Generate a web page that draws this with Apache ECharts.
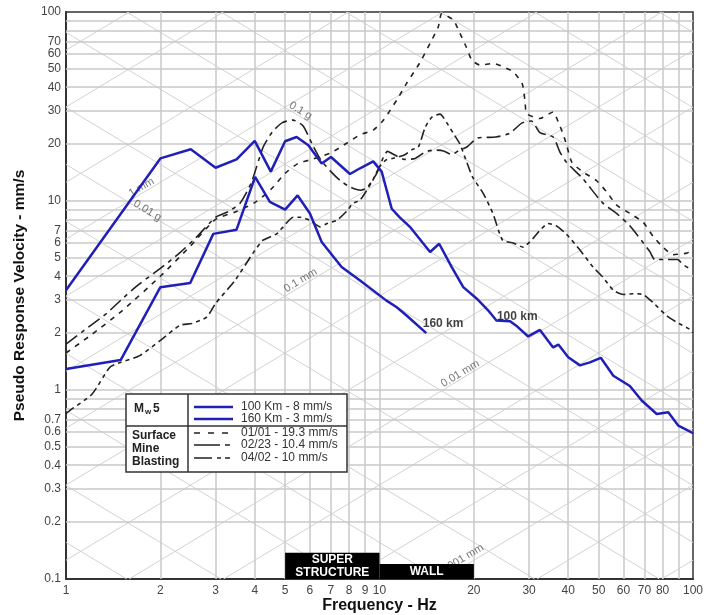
<!DOCTYPE html>
<html>
<head>
<meta charset="utf-8">
<title>Pseudo Response Velocity</title>
<script src="https://cdn.jsdelivr.net/npm/echarts@6/dist/echarts.min.js"></script>
<style>
  html, body { margin: 0; padding: 0; background: #fff; }
  #chart { width: 704px; height: 615px; }
</style>
</head>
<body>
<div id="chart"></div>
<script>
// [frequency Hz, pseudo velocity mm/s]
const km100 = [[1,3.37],[2,16.8],[2.5,18.8],[3,15.0],[3.5,16.6],[4,20.8],[4.5,14.3],[5,20.7],[5.44,21.8],[5.93,19.7],[6.54,15.8],[7,17.1],[8.05,13.9],[8.67,14.9],[9.55,16.2],[10.16,14.3],[10.94,9.1],[11.6,8.2],[12.5,7.3],[14.5,5.37],[15.5,5.94],[17,4.47],[18.5,3.5],[20.4,3.05],[22.2,2.64],[23.6,2.33],[26.1,2.31],[27.3,2.19],[29.8,1.92],[32.5,2.08],[35.8,1.68],[37.2,1.74],[40,1.49],[43.6,1.35],[46.9,1.40],[50.8,1.48],[55.7,1.19],[62.9,1.05],[68.6,0.88],[76.6,0.746],[83.4,0.762],[89.8,0.647],[100,0.592]];
const km160 = [[1,1.29],[1.494,1.44],[2,3.5],[2.49,3.68],[2.95,6.7],[3.5,7.05],[4.01,13.4],[4.47,9.9],[5,9.0],[5.48,10.7],[6,8.58],[6.54,6.07],[7.57,4.47],[8.67,3.8],[10.5,2.98],[11.35,2.74],[12.2,2.48],[14.1,2.0]];
const blast0101 = [[1,1.57],[1.2,1.95],[1.5,2.6],[2,4.0],[2.5,5.8],[3,8.0],[3.5,8.8],[4,9.8],[4.5,11.5],[5,14],[5.5,15.8],[6,16.5],[7,18],[7.85,20.2],[8.67,22.4],[9.55,23.7],[10.3,26.8],[11.35,34.2],[12.2,41.9],[13.4,53.4],[14.5,68.3],[15.4,83.6],[15.8,98],[17.2,90.7],[18.05,77.1],[18.9,65.5],[19.7,55.7],[20.9,52.4],[23.1,53.4],[25.4,50.3],[26.7,48.3],[28.5,41.9],[29.1,34.1],[29.5,29],[32.5,27.3],[35.8,29.6],[37.2,26.1],[38.6,22.4],[39.5,19.8],[41.1,16.0],[44.7,14.2],[49.3,12.8],[53.2,11.1],[57.1,9.5],[62.9,8.6],[69.4,7.7],[74.6,6.5],[80.2,5.7],[86.3,5.2],[95.6,5.3],[100,5.5]];
const blast0223 = [[1,1.75],[1.2,2.2],[1.35,2.55],[1.5,3.0],[1.7,3.6],[2,4.4],[2.3,5.3],[2.6,6.4],[3,8.2],[3.3,8.8],[3.6,9.8],[3.9,12.5],[4.25,19.2],[4.55,23.2],[4.9,26],[5.3,26.8],[5.7,25],[6.1,20],[6.5,16.5],[7,14.3],[7.5,12.8],[8.1,11.8],[8.7,11.4],[9.1,11.7],[9.8,14],[10.3,17.1],[10.6,18.3],[11.2,17.5],[12,16.6],[13,16.8],[14,18.2],[15,18.6],[16,18.4],[17,17.6],[18,18.6],[19,19.3],[20.5,21.5],[23.5,21.8],[26,22.8],[28.5,25.9],[30.5,26.5],[32.5,23],[35.8,21.8],[37.6,18.2],[39.5,16.0],[44.4,13.2],[51.4,9.8],[57,8.6],[62.9,7.4],[72.8,5.4],[75.6,4.9],[82,4.9],[89.3,4.9],[93,4.6],[100,4.3]];
const blast0402 = [[1,0.75],[1.03,0.78],[1.21,0.95],[1.38,1.32],[1.49,1.40],[1.72,1.52],[2,1.83],[2.31,2.2],[2.52,2.25],[2.81,2.43],[3,2.87],[3.46,3.8],[3.95,5.3],[4.25,6.2],[4.7,6.7],[4.93,7.3],[5.3,8.2],[5.58,8.2],[6,7.9],[6.46,7.3],[6.8,7.6],[7.3,7.9],[7.9,8.9],[8.2,9.7],[8.67,10.1],[9.5,12.8],[10,15.2],[10.5,16.5],[11,16.8],[12,17.5],[12.7,18.7],[13.3,19.3],[14,24.6],[14.7,27.8],[15.6,28.8],[16.4,25.9],[17.2,22.8],[18,20.2],[19,16],[19.8,13.4],[21.4,11],[23,8.6],[24.7,6.2],[26.7,6.0],[28.7,5.7],[30.8,6.3],[32.5,7.0],[34.5,7.6],[36.6,7.4],[39.4,6.7],[43.6,5.5],[48,4.47],[51.6,3.95],[55.7,3.37],[60,3.2],[64.5,3.23],[69.4,3.2],[74.6,2.9],[82.4,2.47],[90.5,2.24],[97.4,2.1],[100,2.0]];

const xTickLabels = [1,2,3,4,5,6,7,8,9,10,20,30,40,50,60,70,80,100];
const yTickLabels = [0.1,0.2,0.3,0.4,0.5,0.6,0.7,1,2,3,4,5,6,7,10,20,30,40,50,60,70,100];
const xGridValues = [2,3,4,5,6,7,8,9,10,20,30,40,50,60,70,80,90];
const yGridValues = [0.2,0.3,0.4,0.5,0.6,0.7,0.8,0.9,1,2,3,4,5,6,7,8,9,10,20,30,40,50,60,70,80,90];
// tripartite diagonals: displacement (mm) and acceleration (g)
const dispValues = [0.0002,0.0005,0.001,0.002,0.005,0.01,0.02,0.05,0.1,0.2,0.5,1,2,5,10];
const accValues = [0.0001,0.0002,0.0005,0.001,0.002,0.005,0.01,0.02,0.05,0.1,0.2,0.5,1,2,5];
const diagLabelText = ['0.1 g','0.01 g','1 mm','0.1 mm','0.01 mm','0.001 mm'];
const diagLabelAt = [[5.6,30],[1.82,8.9],[1.74,11.8],[5.6,3.8],[18.1,1.22],[18.3,0.127]];
const diagLabelKind = ['acc','acc','disp','disp','disp','disp'];

const F_MIN = 1, F_MAX = 100, V_MIN = 0.1, V_MAX = 100;
const G = 9810;
const ANG = Math.atan((567 / 3) / (627 / 2)) * 180 / Math.PI;

const clampF = (f) => Math.min(F_MAX * 0.9999, Math.max(F_MIN * 1.0001, f));
const clampV = (v) => Math.min(V_MAX * 0.9999, Math.max(V_MIN * 1.0001, v));

const diagLines = [];
dispValues.forEach((d) => {
  const k = 2 * Math.PI * d;
  const lo = Math.max(F_MIN, V_MIN / k), hi = Math.min(F_MAX, V_MAX / k);
  if (lo < hi) {
    diagLines.push([{ coord: [clampF(lo), clampV(k * lo)] }, { coord: [clampF(hi), clampV(k * hi)] }]);
  }
});
accValues.forEach((a) => {
  const k = G * a / (2 * Math.PI);
  const lo = Math.max(F_MIN, k / V_MAX), hi = Math.min(F_MAX, k / V_MIN);
  if (lo < hi) {
    diagLines.push([{ coord: [clampF(lo), clampV(k / lo)] }, { coord: [clampF(hi), clampV(k / hi)] }]);
  }
});

const gridLines = xGridValues.map((x) => ({ xAxis: x })).concat(yGridValues.map((y) => ({ yAxis: y })));

const FONT = "'Liberation Sans', Arial, sans-serif";
const BLUE = "#2020b8";
const BLACK = "#222";
const DASH_0101 = [5, 6];
const DASH_0223 = [14, 5, 4, 5];
const DASH_0402 = [10, 4, 4, 4, 4, 4];

const fmt = (v) => String(+(+v).toPrecision(3));

const lineSeries = (name, data, color, width, dash, smooth) => ({
  name: name,
  type: "line",
  data: data,
  showSymbol: false,
  symbol: "none",
  smooth: smooth,
  z: 3,
  lineStyle: { color: color, width: width, type: dash },
});

const option = {
  animation: false,
  backgroundColor: "#fff",
  textStyle: { fontFamily: FONT },
  grid: { left: 66, right: 11, top: 12, bottom: 36, outerBoundsMode: "none", containLabel: false, show: true, borderColor: "#333", borderWidth: 1.5 },
  xAxis: {
    type: "log",
    logBase: 10,
    min: F_MIN,
    max: F_MAX,
    name: "Frequency - Hz",
    nameLocation: "middle",
    nameGap: 19,
    nameMoveOverlap: false,
    nameTextStyle: { fontSize: 16, fontWeight: "bold", color: "#111", fontFamily: FONT },
    axisLine: { show: true, onZero: false, lineStyle: { color: "#333", width: 2 } },
    axisTick: { show: false },
    splitLine: { show: false },
    axisLabel: { customValues: xTickLabels, formatter: fmt, color: "#444", fontSize: 12, margin: 6, fontFamily: FONT },
  },
  yAxis: {
    type: "log",
    logBase: 10,
    min: V_MIN,
    max: V_MAX,
    name: "Pseudo Response Velocity - mm/s",
    nameLocation: "middle",
    nameGap: 38,
    nameMoveOverlap: false,
    nameTextStyle: { fontSize: 15.5, fontWeight: "bold", color: "#111", fontFamily: FONT },
    axisLine: { show: true, onZero: false, lineStyle: { color: "#333", width: 2 } },
    axisTick: { show: false },
    splitLine: { show: false },
    axisLabel: { customValues: yTickLabels, formatter: fmt, color: "#444", fontSize: 12, margin: 5, fontFamily: FONT },
  },
  series: [
    {
      type: "line",
      data: [],
      silent: true,
      z: 1,
      markLine: {
        silent: true,
        z: 1,
        symbol: ["none", "none"],
        label: { show: false },
        lineStyle: { color: "#d2d2d2", width: 1, type: "solid" },
        data: diagLines,
      },
    },
    {
      type: "line",
      data: [],
      silent: true,
      z: 1,
      markLine: {
        silent: true,
        z: 1,
        symbol: ["none", "none"],
        label: { show: false },
        lineStyle: { color: "#c9c9c9", width: 1.5, type: "solid" },
        data: gridLines,
      },
    },
    {
      type: "scatter",
      silent: true,
      symbolSize: 0,
      z: 2,
      data: diagLabelText.map((t, i) => ({
        name: t,
        value: diagLabelAt[i],
        label: { rotate: diagLabelKind[i] === "disp" ? ANG : -ANG },
      })),
      label: { show: true, position: "inside", formatter: "{b}", color: "#555", fontSize: 11, fontFamily: FONT },
    },
    lineSeries("01/01 - 19.3 mm/s", blast0101, BLACK, 1.6, DASH_0101, 0.2),
    lineSeries("02/23 - 10.4 mm/s", blast0223, BLACK, 1.6, DASH_0223, 0.2),
    lineSeries("04/02 - 10 mm/s", blast0402, BLACK, 1.6, DASH_0402, 0.2),
    lineSeries("100 Km - 8 mm/s", km100, BLUE, 2.5, "solid", false),
    lineSeries("160 Km - 3 mm/s", km160, BLUE, 2.5, "solid", false),
    {
      type: "scatter",
      silent: true,
      symbolSize: 0,
      z: 4,
      data: [
        { name: "160 km", value: [15.95, 2.25] },
        { name: "100 km", value: [27.5, 2.45] },
      ],
      label: { show: true, position: "inside", formatter: "{b}", color: "#111", fontSize: 12, fontWeight: "bold", fontFamily: FONT },
    },
    {
      type: "line",
      data: [],
      silent: true,
      z: 10,
      markArea: {
        silent: true,
        z: 10,
        itemStyle: { color: "#000", opacity: 1 },
        label: { show: true, position: "inside", color: "#fff", fontSize: 12, fontWeight: "bold", lineHeight: 13, fontFamily: FONT },
        data: [
          [{ name: "SUPER\nSTRUCTURE", xAxis: 5, yAxis: 0.1 }, { xAxis: 10, yAxis: 0.1375 }],
          [{ name: "WALL", xAxis: 10, yAxis: 0.1 }, { xAxis: 20, yAxis: 0.12 }],
        ],
      },
    },
  ],
  graphic: [
    { type: "rect", shape: { x: 126, y: 394, width: 221, height: 78 }, style: { fill: "#fff", stroke: "#333", lineWidth: 1.5 }, z: 100 },
    { type: "line", shape: { x1: 188, y1: 394, x2: 188, y2: 472 }, style: { stroke: "#333", lineWidth: 1.5 }, z: 101 },
    { type: "line", shape: { x1: 126, y1: 426, x2: 347, y2: 426 }, style: { stroke: "#333", lineWidth: 1.5 }, z: 101 },
    { type: "text", x: 134, y: 409, z: 101, style: { text: "M", fill: "#222", fontSize: 12, fontWeight: "bold", fontFamily: FONT, verticalAlign: "middle" } },
    { type: "text", x: 145, y: 412, z: 101, style: { text: "w", fill: "#222", fontSize: 8, fontWeight: "bold", fontFamily: FONT, verticalAlign: "middle" } },
    { type: "text", x: 153, y: 409, z: 101, style: { text: "5", fill: "#222", fontSize: 12, fontWeight: "bold", fontFamily: FONT, verticalAlign: "middle" } },
    { type: "text", x: 132, y: 449, z: 101, style: { text: "Surface\nMine\nBlasting", fill: "#222", fontSize: 12, fontWeight: "bold", lineHeight: 13, fontFamily: FONT, verticalAlign: "middle" } },
    { type: "line", shape: { x1: 194, y1: 407, x2: 233, y2: 407 }, style: { stroke: BLUE, lineWidth: 2.5 }, z: 101 },
    { type: "line", shape: { x1: 194, y1: 419, x2: 233, y2: 419 }, style: { stroke: BLUE, lineWidth: 2.5 }, z: 101 },
    { type: "line", shape: { x1: 194, y1: 433, x2: 230, y2: 433 }, style: { stroke: BLACK, lineWidth: 1.5, lineDash: [6, 8] }, z: 101 },
    { type: "line", shape: { x1: 194, y1: 445, x2: 230, y2: 445 }, style: { stroke: BLACK, lineWidth: 1.5, lineDash: [26, 5, 5, 5] }, z: 101 },
    { type: "line", shape: { x1: 194, y1: 458, x2: 230, y2: 458 }, style: { stroke: BLACK, lineWidth: 1.5, lineDash: [18, 5, 4, 4, 5, 5] }, z: 101 },
    { type: "text", x: 241, y: 407, z: 101, style: { text: "100 Km - 8 mm/s", fill: "#333", fontSize: 12, fontFamily: FONT, verticalAlign: "middle" } },
    { type: "text", x: 241, y: 419, z: 101, style: { text: "160 Km - 3 mm/s", fill: "#333", fontSize: 12, fontFamily: FONT, verticalAlign: "middle" } },
    { type: "text", x: 241, y: 433, z: 101, style: { text: "01/01 - 19.3 mm/s", fill: "#333", fontSize: 12, fontFamily: FONT, verticalAlign: "middle" } },
    { type: "text", x: 241, y: 445, z: 101, style: { text: "02/23 - 10.4 mm/s", fill: "#333", fontSize: 12, fontFamily: FONT, verticalAlign: "middle" } },
    { type: "text", x: 241, y: 458, z: 101, style: { text: "04/02 - 10 mm/s", fill: "#333", fontSize: 12, fontFamily: FONT, verticalAlign: "middle" } },
  ],
};

const chart = echarts.init(document.getElementById("chart"));
chart.setOption(option);
</script>
</body>
</html>
